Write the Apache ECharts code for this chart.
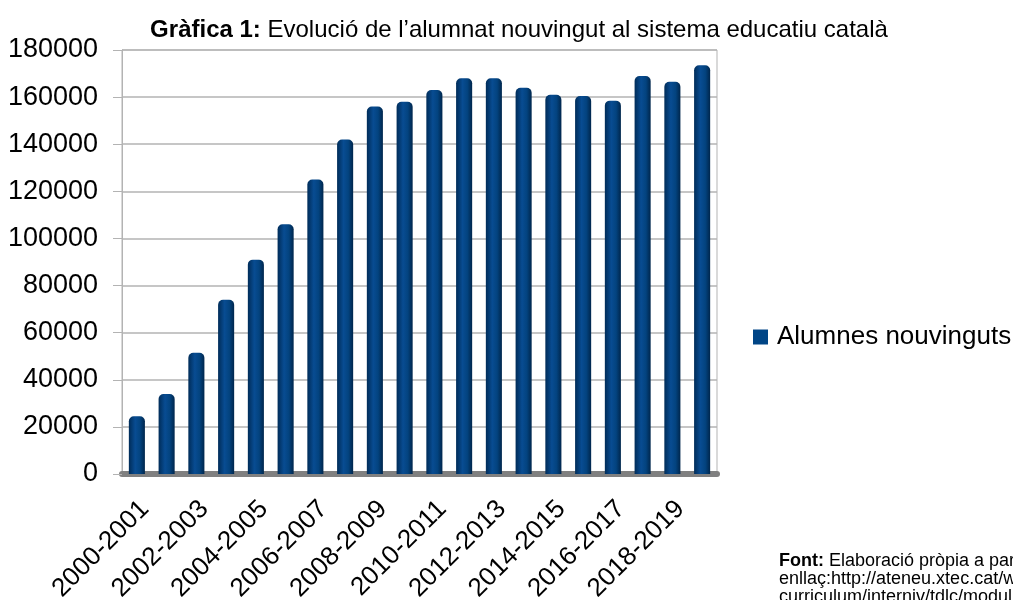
<!DOCTYPE html>
<html>
<head>
<meta charset="utf-8">
<script src="https://cdn.jsdelivr.net/npm/echarts@6/dist/echarts.min.js"></script>
<style>
  html, body { margin: 0; padding: 0; background: #fff; }
  #main { width: 1013px; height: 600px; }
</style>
</head>
<body>
<div id="main"></div>
<script>
// cursos escolars
const cursos = ['2000-2001', '2001-2002', '2002-2003', '2003-2004', '2004-2005',
    '2005-2006', '2006-2007', '2007-2008', '2008-2009', '2009-2010',
    '2010-2011', '2011-2012', '2012-2013', '2013-2014', '2014-2015',
    '2015-2016', '2016-2017', '2017-2018', '2018-2019', '2019-2020']
// alumnes nouvinguts per curs (llegit de la gràfica)
const alumnes = [24500, 34000, 51500, 74000, 91000, 106000, 125000, 142000, 156000, 158000,
    163000, 168000, 168000, 164000, 161000, 160500, 158500, 169000, 166500, 173500]
const nomSerie = 'Alumnes nouvinguts'

let myChart = echarts.init(document.getElementById('main'))

// degradat per donar aspecte de cilindre
const colorBarra = new echarts.graphic.LinearGradient(0, 0, 1, 0, [
    { offset: 0, color: '#002c58' },
    { offset: 0.4, color: '#084c92' },
    { offset: 0.7, color: '#03437f' },
    { offset: 1, color: '#00264c' }
])

let option = {
    backgroundColor: '#ffffff',
    animation: false,
    textStyle: { fontFamily: 'Liberation Sans, Arial, sans-serif' },
    title: {
        text: '{b|Gràfica 1:} Evolució de l\u2019alumnat nouvingut al sistema educatiu català',
        left: 514,
        textAlign: 'center',
        top: 13,
        textStyle: {
            fontSize: 24,
            fontWeight: 'normal',
            color: '#000',
            rich: {
                b: { fontSize: 24, fontWeight: 'bold', color: '#000' }
            }
        }
    },
    legend: {
        left: 748,
        top: 319,
        icon: 'rect',
        itemWidth: 15,
        itemHeight: 15,
        textStyle: { fontSize: 26, color: '#000', padding: [0, 0, 0, 4] },
        data: [{ name: nomSerie, itemStyle: { color: '#004586' } }]
    },
    grid: [{
        left: 122,
        right: 296,
        top: 50,
        bottom: 126,
        outerBoundsMode: 'none',
        show: true,
        borderColor: '#b3b3b3',
        borderWidth: 1
    }, {
        // graella auxiliar, desplaçada, només per a les etiquetes de l'eix x
        left: 130,
        right: 288,
        top: 50,
        bottom: 126,
        outerBoundsMode: 'none'
    }],
    xAxis: [{
        type: 'category',
        data: cursos,
        axisLine: { show: true, lineStyle: { color: '#808080', width: 6 } },
        axisTick: { show: false },
        axisLabel: { show: false }
    }, {
        type: 'category',
        gridIndex: 1,
        data: cursos,
        axisLine: { show: false },
        axisTick: { show: false },
        axisLabel: {
            interval: 1,
            rotate: 45,
            margin: 31,
            fontSize: 26,
            color: '#000'
        }
    }],
    yAxis: [{
        type: 'value',
        min: 0,
        max: 180000,
        interval: 20000,
        axisLine: { show: true, lineStyle: { color: '#b3b3b3' } },
        axisTick: { show: true, length: 9, lineStyle: { color: '#b3b3b3' } },
        splitLine: { lineStyle: { color: '#b3b3b3', width: 1.5 } },
        axisLabel: {
            fontSize: 27,
            color: '#000',
            margin: 24,
            formatter: v => String(v)
        }
    }, {
        type: 'value',
        gridIndex: 1,
        show: false,
        min: 0,
        max: 180000
    }],
    series: [{
        name: nomSerie,
        type: 'bar',
        data: alumnes,
        barWidth: '54%',
        itemStyle: {
            color: colorBarra,
            borderRadius: [5, 5, 0, 0]
        }
    }],
    graphic: [{
        type: 'text',
        left: 779,
        top: 552,
        style: {
            text: '{b|Font:} Elaboració pròpia a partir de les dades de l\u2019\nenllaç:http://ateneu.xtec.cat/wikiform/wikiexport/materials/\ncurriculum/interniv/tdlc/modul_1/',
            fontSize: 18,
            lineHeight: 18,
            fill: '#000',
            fontFamily: 'Liberation Sans, Arial, sans-serif',
            rich: {
                b: { fontSize: 18, lineHeight: 18, fontWeight: 'bold', fill: '#000' }
            }
        }
    }]
}
myChart.setOption(option)
</script>
</body>
</html>
